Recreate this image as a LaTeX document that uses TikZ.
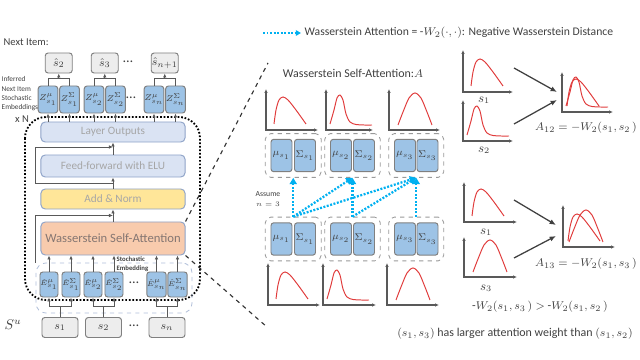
\documentclass[tikz,border=0pt]{standalone}
\usepackage{amsmath}
\usepackage{fontspec}
\setmainfont{Carlito}
\usepackage{tikz}
\usetikzlibrary{positioning, arrows.meta, calc, fit}
\definecolor{boxblue}{HTML}{9DC3E6}
\definecolor{laybg}{HTML}{DAE3F3}
\definecolor{layln}{HTML}{8FA3C8}
\definecolor{normbg}{HTML}{FFE699}
\definecolor{attbg}{HTML}{F8CBAD}
\definecolor{attcyan}{HTML}{00B0F0}
\definecolor{curvered}{HTML}{E03C3C}
\definecolor{axgray}{HTML}{595959}
\definecolor{txtgray}{HTML}{404040}
\definecolor{pale}{HTML}{A6A6A6}
\definecolor{attxt}{HTML}{857672}
\newcommand{\fs}[2]{\fontsize{#1}{#2}\selectfont}
% small plots: axes, and three kinds of density curve
\newcommand{\axes}[3]{\draw[ax] ($(#1)+(0,-#2)$) -- (#1) -- ($(#1)+(#3,0)$);}
\newcommand{\distA}[1]{\draw[curve,shift={#1}] plot[smooth] coordinates {(8,-6) (10,-20) (13,-30) (17,-33) (22,-30) (30,-20) (40,-6)};}
\newcommand{\distB}[1]{\draw[curve,shift={#1}] plot[smooth] coordinates {(4,-6) (8,-20) (11,-32) (14,-35) (17,-30) (20,-16) (24,-8) (30,-5.5) (38,-5) (46,-5)};}
\newcommand{\distC}[1]{\draw[curve,shift={#1}] plot[smooth] coordinates {(9,-5) (14,-18) (20,-32) (26,-37) (32,-32) (38,-18) (43,-5)};}
\begin{document}
\begin{tikzpicture}[x=0.025cm,y=-0.025cm,>={Latex[length=1mm,width=0.9mm]},
  lbl/.style={text=txtgray,inner sep=1pt},
  hatbox/.style={draw=black!50,fill=black!7,rounded corners=2pt,line width=0.7pt,inner sep=0pt,minimum width=0.675cm,minimum height=0.5cm,font=\fs{8}{10},text=txtgray},
  zbox/.style={draw=black!50,fill=boxblue,rounded corners=2pt,line width=0.7pt,inner sep=0pt,minimum width=0.49cm,minimum height=0.675cm,font=\fs{5.6}{7},text=txtgray},
  ebox/.style={zbox,minimum width=0.45cm,minimum height=0.625cm,font=\fs{5.3}{7}},
  sbox/.style={hatbox,minimum width=0.9cm},
  layer/.style={draw=layln,fill=laybg,rounded corners=3pt,line width=0.7pt,inner sep=0pt,minimum width=3.6cm,minimum height=0.5cm,text=pale,font=\fs{8}{10}},
  msbox/.style={zbox,minimum width=0.525cm,minimum height=0.81cm,font=\fs{7}{9}},
  grp/.style={draw=black!40,dashed,rounded corners=4pt,inner sep=0.13cm,line width=0.6pt},
  sebox/.style={draw=layln!70,dashed,rounded corners=7pt,line width=0.6pt,minimum width=3.9cm,minimum height=1.25cm},
  ax/.style={draw=axgray,line width=0.8pt,{Latex[length=1mm,width=0.9mm]}-{Latex[length=1mm,width=0.9mm]}},
  curve/.style={draw=curvered,line width=0.7pt},
  arr/.style={draw=axgray,line width=0.6pt,->},
  big/.style={draw=black!75,line width=0.9pt,-{Latex[length=1.6mm,width=1.3mm]}},
  att/.style={draw=attcyan,line width=1.6pt,dash pattern=on 1.4pt off 1.1pt,-{Triangle[length=1.6mm,width=1.8mm]}},
  zoomln/.style={draw=black!80,line width=0.8pt,dashed}]
\useasboundingbox (0,0) rectangle (640,360);

% left: next item prediction
\node[lbl,anchor=west,font=\fs{7.5}{9}](next) at (2,42){Next Item:};
\node[hatbox](h2) at (58.75,63){$\hat{s}_2$};\node[hatbox](h3) at (104.75,63){$\hat{s}_3$};
\node[lbl](dh) at (128,62){\dots};\node[hatbox](hn) at (164.75,63){$\hat{s}_{n+1}$};
\node[zbox](z1m) at (48,99.5){$Z^{\mu}_{s_1}$};\node[zbox](z1s) at (69.5,99.5){$Z^{\Sigma}_{s_1}$};
\node[zbox](z2m) at (94,99.5){$Z^{\mu}_{s_2}$};\node[zbox](z2s) at (115.5,99.5){$Z^{\Sigma}_{s_2}$};
\node[lbl](dz) at (131,98){\dots};
\node[zbox](znm) at (154,99.5){$Z^{\mu}_{s_n}$};\node[zbox](zns) at (175.5,99.5){$Z^{\Sigma}_{s_n}$};
\foreach \a/\b/\h in {z1m/z1s/h2,z2m/z2s/h3,znm/zns/hn}{
  \draw[arr,-](\a.north)--++(0,-7)-|(\b.north);\draw[arr]($(\a.north)!.5!(\b.north)+(0,-7)$)--(\h.south);}
\node[lbl,anchor=west,align=left,font=\fs{5.2}{6.6}](inf) at (0,94){Inferred\\Next Item\\Stochastic\\Embeddings};
\node[lbl,font=\fs{7.5}{9}](xn) at (22,119){x N};

% encoder block
\draw[line width=1.3pt,dash pattern=on 1.2pt off 1.3pt,rounded corners=15pt](25,117) rectangle (200,300);
\node[layer](lo) at (113,132){Layer Outputs};
\node[layer,minimum height=0.55cm](ff) at (113,166){Feed-forward with ELU};
\node[layer,fill=normbg](an) at (113,199){Add \& Norm};
\node[layer,fill=attbg,minimum height=0.825cm,text=attxt,font=\fs{9}{11}](wsa) at (113,238.5){Wasserstein Self-Attention};
\foreach \z in {z1m,z1s,z2m,z2s,znm,zns}\draw[arr](\z.south |- lo.north)--(\z.south);
\draw[arr](ff.north)--(lo.south);\draw[arr](an.north)--(ff.south);\draw[arr](wsa.north)--(an.south);
\coordinate(r1l) at (35,147);\coordinate(r1r) at (113,147);
\draw[arr]($(an.north)!.5!(ff.south)$)-|(r1l)--(r1r);
\coordinate(r2b) at (35,263);\draw[arr](r2b)|-($(wsa.north)!.5!(an.south)$);

% stochastic embedding
\node[sebox](se) at (114,288){};
\node[lbl,anchor=west,align=left,font=\bfseries\fs{4.8}{6}](sel) at (115,264){Stochastic\\Embedding};
\node[ebox](e1m) at (49,284.5){$\hat{E}^{\mu}_{s_1}$};\node[ebox](e1s) at (71,284.5){$\hat{E}^{\Sigma}_{s_1}$};
\node[ebox](e2m) at (93,284.5){$\hat{E}^{\mu}_{s_2}$};\node[ebox](e2s) at (114,284.5){$\hat{E}^{\Sigma}_{s_2}$};
\node[lbl](de) at (134,283){\dots};
\node[ebox](enm) at (156.5,284.5){$\hat{E}^{\mu}_{s_n}$};\node[ebox](ens) at (177.5,284.5){$\hat{E}^{\Sigma}_{s_n}$};
\foreach \e in {e1m,e1s,e2m,e2s,enm,ens}\draw[arr](\e.north)--(\e.north |- wsa.south);
\node[sbox](s1) at (60,327.5){$s_1$};\node[sbox](s2) at (103.5,327.5){$s_2$};
\node[lbl](ds) at (134,326){\dots};\node[sbox](sn) at (167,327.5){$s_n$};
\foreach \s/\a/\b in {s1/e1m/e1s,s2/e2m/e2s,sn/enm/ens}{
  \draw[arr](\s.north)--++(0,-11)-|(\a.south);\draw[arr](\s.north)--++(0,-11)-|(\b.south);}
\node[lbl,font=\fs{10}{12}](su) at (13,325){$S^u$};
\coordinate(zt) at (268,63);\coordinate(zb) at (267,327);
\draw[zoomln](wsa.north east)--(zt);\draw[zoomln](wsa.south east)--(zb);

% legend and title
\coordinate(lg0) at (263,33);\coordinate(lg1) at (301,33);
\draw[att,line width=1.2pt,-{Triangle[length=1.3mm,width=1.4mm]}](lg0)--(lg1);
\node[lbl,anchor=west,font=\fs{8.3}{10}](lgt) at (303,33){Wasserstein Attention = -$W_2(\cdot,\cdot)$: Negative Wasserstein Distance};
\node[lbl,font=\fs{8.5}{10}](ttl) at (353,73){Wasserstein Self-Attention:$A$};

% top row
\axes{266,130}{41}{52}\distA{(266,130)}\axes{326,130}{41}{47}\distB{(326,130)}\axes{389,130}{41}{51}\distC{(389,130)}
\node[msbox](m1t) at (281.5,155.5){$\mu_{s_1}$};\node[msbox](S1t) at (305,155.5){$\Sigma_{s_1}$};
\node[msbox](m2t) at (341,155.5){$\mu_{s_2}$};\node[msbox](S2t) at (364,155.5){$\Sigma_{s_2}$};
\node[msbox](m3t) at (405,155.5){$\mu_{s_3}$};\node[msbox](S3t) at (427.5,155.5){$\Sigma_{s_3}$};
\node[grp,fit=(m1t)(S1t)](g1t){};\node[grp,fit=(m2t)(S2t)](g2t){};\node[grp,fit=(m3t)(S3t)](g3t){};
% bottom row
\node[msbox](m1b) at (281.5,239){$\mu_{s_1}$};\node[msbox](S1b) at (305,239){$\Sigma_{s_1}$};
\node[msbox](m2b) at (341,239){$\mu_{s_2}$};\node[msbox](S2b) at (364,239){$\Sigma_{s_2}$};
\node[msbox](m3b) at (405,239){$\mu_{s_3}$};\node[msbox](S3b) at (427.5,239){$\Sigma_{s_3}$};
\node[grp,fit=(m1b)(S1b)](g1b){};\node[grp,fit=(m2b)(S2b)](g2b){};\node[grp,fit=(m3b)(S3b)](g3b){};
\axes{268,305}{42}{52}\distA{(268,305)}\axes{323,305}{42}{53}\distB{(323,305)}\axes{387,305}{42}{52}\distC{(387,305)}
\node[lbl,align=center,font=\fs{5.5}{7}](asm) at (268,199){Assume\\$n=3$};
\draw[att](g1b.north)--(g1t.south);\draw[att](g1b.north)--(g2t.south);\draw[att](g1b.north)--(g3t.south);
\draw[att](g2b.north)--(g2t.south);\draw[att](g2b.north)--(g3t.south);\draw[att](g3b.north)--(g3t.south);

% pairwise distances
\axes{463,92}{42}{50}\distA{(463,92)}\node[lbl,font=\fs{9}{11}](l1a) at (484,100){$s_1$};
\axes{463,141}{41}{50}\distB{(463,141)}\node[lbl,font=\fs{9}{11}](l2a) at (484,150){$s_2$};
\axes{562,112}{40}{51}\distA{(559,112)}\distB{(562,112)}
\coordinate(p1) at (514,68);\coordinate(p2) at (557,92);\coordinate(p3) at (514,124);\coordinate(p4) at (557,100);
\draw[big](p1)--(p2);\draw[big](p3)--(p4);
\node[lbl,font=\fs{8.3}{10}](a12) at (586,128){$A_{12}=-W_2(s_1,s_2\,)$};
\axes{464,222}{40}{53}\distA{(464,222)}\node[lbl,font=\fs{9}{11}](l1b) at (486,232){$s_1$};
\axes{464,277}{40}{53}\distC{(464,277)}\node[lbl,font=\fs{9}{11}](l3b) at (486,288){$s_3$};
\axes{563,247}{42}{52}\distA{(560,247)}\distC{(560,247)}
\coordinate(q1) at (514,200);\coordinate(q2) at (556,225);\coordinate(q3) at (514,258);\coordinate(q4) at (556,236);
\draw[big](q1)--(q2);\draw[big](q3)--(q4);
\node[lbl,font=\fs{8.3}{10}](a13) at (586,264){$A_{13}=-W_2(s_1,s_3\,)$};
\node[lbl,font=\fs{8.5}{10}](cmp) at (540,307){-$W_2(s_1,s_3\,)>$ -$W_2(s_1,s_2\,)$};
\node[lbl,font=\fs{8.5}{10}](cnc) at (515,334){$(s_1,s_3)$ has larger attention weight than $(s_1,s_2)$};
\end{tikzpicture}
\end{document}
